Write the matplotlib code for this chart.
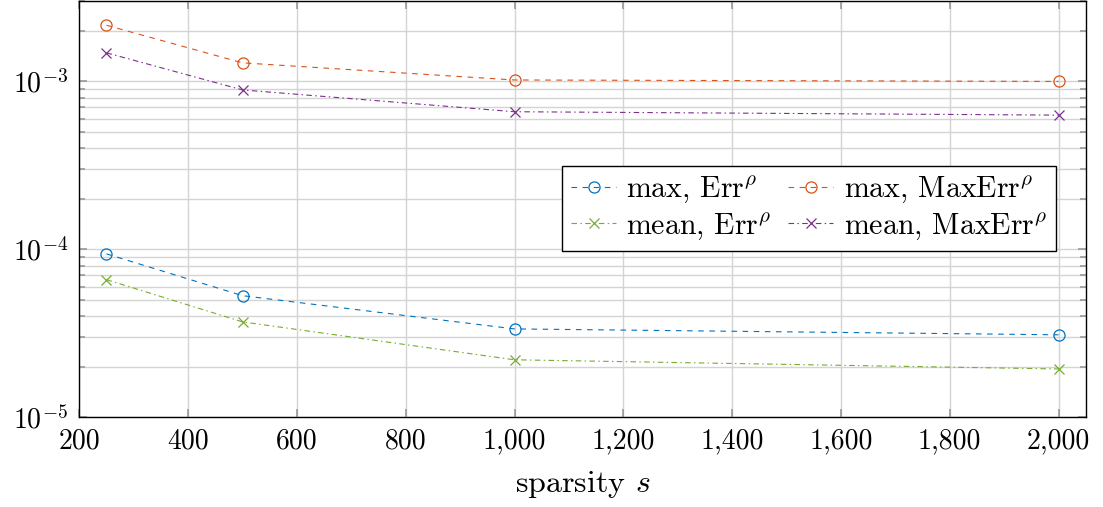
import math
import matplotlib
matplotlib.use('Agg')
import matplotlib.pyplot as plt
from matplotlib.ticker import FixedLocator, FuncFormatter, LogLocator, NullFormatter

plt.rcParams['font.family'] = 'serif'
plt.rcParams['font.serif'] = ['cmr10', 'DejaVu Serif']
plt.rcParams['mathtext.fontset'] = 'cm'
plt.rcParams['axes.formatter.use_mathtext'] = True

# data
sparsity = [250, 500, 1000, 2000]
max_err = [9.4e-5, 5.3e-5, 3.36e-5, 3.1e-5]
mean_err = [6.6e-5, 3.7e-5, 2.2e-5, 1.94e-5]
max_maxerr = [2.16e-3, 1.29e-3, 1.02e-3, 1.0e-3]
mean_maxerr = [1.48e-3, 8.9e-4, 6.6e-4, 6.3e-4]
xticks = [200, 400, 600, 800, 1000, 1200, 1400, 1600, 1800, 2000]

blue = '#0072BD'
orange = '#D95319'
green = '#77AC30'
purple = '#7E2F8E'

fig = plt.figure(figsize=(11.03, 5.07), dpi=100)
ax = fig.add_axes([79.3/1103, 1 - 417.3/507, (1085.7 - 79.3)/1103, (417.3 - 1.3)/507])

dashed = (0, (5, 5))
dashdot = (0, (5, 3, 1.3, 3))

l1, = ax.plot(sparsity, max_err, color=blue, ls=dashed, lw=0.8, marker='o',
              ms=8, mfc='none', mew=0.9, label=r'max, $\mathrm{Err}^{\rho}$')
l3, = ax.plot(sparsity, mean_err, color=green, ls=dashdot, lw=0.8, marker='x',
              ms=6.5, mew=0.9, label=r'mean, $\mathrm{Err}^{\rho}$')
l2, = ax.plot(sparsity, max_maxerr, color=orange, ls=dashed, lw=0.8, marker='o',
              ms=8, mfc='none', mew=0.9, label=r'max, $\mathrm{MaxErr}^{\rho}$')
l4, = ax.plot(sparsity, mean_maxerr, color=purple, ls=dashdot, lw=0.8, marker='x',
              ms=6.5, mew=0.9, label=r'mean, $\mathrm{MaxErr}^{\rho}$')

ax.set_yscale('log')
ax.set_xlim(200, 2050)
ax.set_ylim(1e-5, 3e-3)

ax.xaxis.set_major_locator(FixedLocator(xticks))
ax.xaxis.set_major_formatter(FuncFormatter(lambda v, p: '{:,}'.format(int(v))))
ax.yaxis.set_major_locator(LogLocator(base=10))
ax.yaxis.set_minor_locator(LogLocator(base=10, subs=range(2, 10)))
ax.yaxis.set_minor_formatter(NullFormatter())
ax.yaxis.set_major_formatter(FuncFormatter(lambda v, p: r'$10^{%d}$' % round(math.log10(v))))

ax.grid(True, which='major', color='#d4d4d4', lw=1.0)
ax.grid(True, which='minor', axis='y', color='#d4d4d4', lw=1.0)
ax.set_axisbelow(True)

ax.tick_params(which='both', direction='in', top=True, right=True,
               color='#999999', labelsize=20, pad=8)
ax.tick_params(which='major', length=6, width=1.2)
ax.tick_params(which='minor', length=4, width=1.2)
for s in ax.spines.values():
    s.set_linewidth(1.0)

ax.set_xlabel(r'sparsity $s$', fontsize=23, labelpad=10)

leg = ax.legend(handles=[l1, l3, l2, l4], ncol=2, loc='upper right',
                bbox_to_anchor=(0.9705, 0.604), fontsize=21.5, frameon=True,
                fancybox=False, edgecolor='black', framealpha=1,
                handlelength=1.5, handletextpad=0.35, columnspacing=0.55,
                labelspacing=0.2, borderpad=0.3, borderaxespad=0)
leg.get_frame().set_linewidth(1.0)

fig.savefig('out.png', dpi=100)
